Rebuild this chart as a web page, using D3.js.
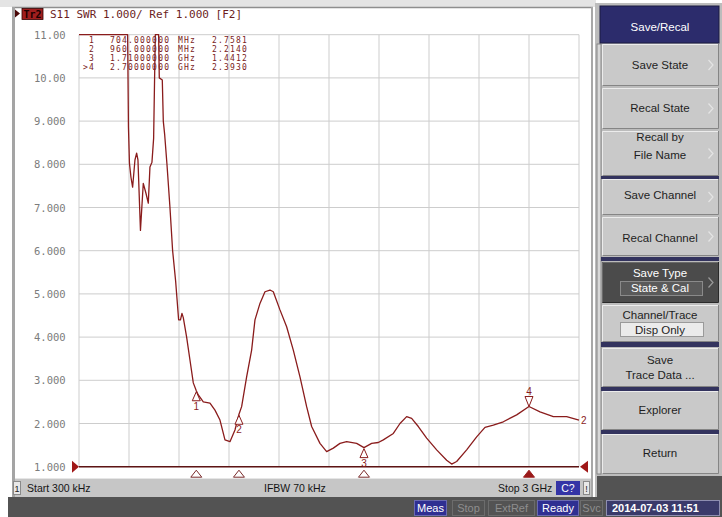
<!DOCTYPE html>
<html><head><meta charset="utf-8">
<script src="https://cdn.jsdelivr.net/npm/d3@7"></script>
<style>body{margin:0;background:#fff}svg{display:block}</style>
</head><body>
<svg id="c" width="722" height="517"></svg>
<script>
// ---------------- DATA ----------------
const startMHz = 0.3, stopMHz = 3000;
const freqMHz = [0.3,150,292,297,303,312,322,336,346,354,369,386,402,416,426,438,448,458,478,482,500,506,514,528,546,562,580,588,598,609,618,626,646,666,686,704,716,746,786,816,846,876,906,936,960,976,1006,1036,1056,1086,1116,1146,1166,1206,1246,1286,1326,1366,1396,1446,1486,1526,1566,1606,1666,1710,1756,1796,1826,1886,1926,1966,1996,2036,2086,2146,2206,2236,2266,2326,2386,2436,2486,2546,2626,2700,2766,2846,2926,3000];
const swr = [12,12,12,8.86,8.02,7.7,7.47,8.1,8.26,8.1,6.47,7.56,7.33,7.1,7.94,8.05,8.6,12,12,10.0,9.95,9.0,8.7,8.0,7.0,6.0,5.3,4.9,4.4,4.4,4.55,4.45,4.0,3.47,2.94,2.7581,2.66,2.5,2.47,2.31,2.08,1.62,1.58,1.85,2.214,2.39,3.08,3.70,4.40,4.78,5.05,5.09,5.05,4.63,4.24,3.70,3.08,2.39,1.93,1.54,1.35,1.43,1.54,1.58,1.54,1.4412,1.54,1.56,1.62,1.77,2.0,2.16,2.12,1.93,1.66,1.39,1.15,1.06,1.12,1.39,1.69,1.91,1.96,2.04,2.20,2.393,2.27,2.16,2.16,2.08];
const yTickValues = [1,2,3,4,5,6,7,8,9,10,11];
const yTickLabels = ["1.000","2.000","3.000","4.000","5.000","6.000","7.000","8.000","9.000","10.00","11.00"];
const markerNames = ["1","2","3",">4"];
const markerFreqMHz = [704,960,1710,2700];
const markerFreqText = ["704.000000","960.000000","1.71000000","2.70000000"];
const markerUnits = ["MHz","MHz","GHz","GHz"];
const markerSWR = [2.7581,2.2140,1.4412,2.3930];
const headerText = "S11 SWR 1.000/ Ref 1.000 [F2]";
const statusTexts = ["Start 300 kHz","IFBW 70 kHz","Stop 3 GHz"];
const menuTitle = "Save/Recal";
const menuLabels = [["Save State"],["Recal State"],["Recall by","File Name"],["Save Channel"],["Recal Channel"],["Save Type","State & Cal"],["Channel/Trace","Disp Only"],["Save","Trace Data ..."],["Explorer"],["Return"]];
const statusFlags = ["Meas","Stop","ExtRef","Ready","Svc"];
const dateText = "2014-07-03 11:51";

// ---------------- LAYOUT ----------------
const svg = d3.select("#c");
const TR = "#8a1c1c";
const plot = {l:79, r:579, t:34.7, b:466.7};
const x = d3.scaleLinear().domain([startMHz, stopMHz]).range([plot.l, plot.r]);
const y = d3.scaleLinear().domain([1, 11]).range([plot.b, plot.t]).clamp(true);
const div = d3.scaleLinear().domain([0,10]).range([plot.l, plot.r]);

svg.append("rect").attr("width",722).attr("height",517).attr("fill","#fff");
svg.append("rect").attr("x",0).attr("y",0).attr("width",596).attr("height",7).attr("fill","#e4e4e4");
svg.append("line").attr("x1",12).attr("x2",593).attr("y1",7.5).attr("y2",7.5).attr("stroke","#8e8e8e").attr("stroke-width",1.5);
svg.append("rect").attr("x",12).attr("y",7).attr("width",3).attr("height",490).attr("fill","#a4a4a4");
svg.append("rect").attr("x",591).attr("y",7).attr("width",2).attr("height",490).attr("fill","#a8a8a8");

// grid
const g = svg.append("g");
g.selectAll(".vg").data(d3.range(11)).join("line")
  .attr("x1",d=>div(d)).attr("x2",d=>div(d)).attr("y1",plot.t).attr("y2",plot.b)
  .attr("stroke","#cdcdcd").attr("stroke-width",1);
g.selectAll(".hg").data(yTickValues).join("line")
  .attr("x1",plot.l).attr("x2",plot.r).attr("y1",d=>y(d)).attr("y2",d=>y(d))
  .attr("stroke","#cdcdcd").attr("stroke-width",1);

// y labels
svg.selectAll(".yl").data(yTickValues).join("text")
  .attr("x",34).attr("y",d=>y(d)+4).text((d,i)=>yTickLabels[i])
  .attr("font-family","DejaVu Sans Mono").attr("font-size","10.5px").attr("fill","#7c7c7c");

// reference line at 1.000
svg.append("line").attr("x1",plot.l).attr("x2",plot.r).attr("y1",y(1)).attr("y2",y(1))
  .attr("stroke","#5e1414").attr("stroke-width",1.4);

// trace
const pts = freqMHz.map((f,i)=>[f, swr[i]]);
svg.append("path").datum(pts)
  .attr("d", d3.line().x(d=>x(d[0])).y(d=>y(d[1])))
  .attr("fill","none").attr("stroke",TR).attr("stroke-width",1.3).attr("stroke-linejoin","round");

// marker table
const mt = svg.append("g").attr("font-family","DejaVu Sans Mono").attr("font-size","8px").attr("letter-spacing","1.2px").attr("fill","#7a2222");
markerNames.forEach((n,i)=>{
  const by = 43 + i*9;
  mt.append("text").attr("x",95).attr("y",by).attr("text-anchor","end").text(n);
  mt.append("text").attr("x",110).attr("y",by).text(markerFreqText[i]);
  mt.append("text").attr("x",178).attr("y",by).text(markerUnits[i]);
  mt.append("text").attr("x",212).attr("y",by).text(markerSWR[i].toFixed(4));
});

// trace markers
markerFreqMHz.forEach((f,i)=>{
  const mx = x(f), my = y(markerSWR[i]);
  if(i<3){
    svg.append("path").attr("d",`M${mx},${my+1}L${mx+4},${my+10}L${mx-4},${my+10}Z`)
      .attr("fill","#fff").attr("stroke",TR).attr("stroke-width",1);
    svg.append("text").attr("x",mx).attr("y",my+19).attr("text-anchor","middle")
      .attr("font-family","Liberation Sans").attr("font-size","10px").attr("fill",TR).text(String(i+1));
  } else {
    svg.append("path").attr("d",`M${mx},${my}L${mx+4},${my-10}L${mx-4},${my-10}Z`)
      .attr("fill","#fff").attr("stroke",TR).attr("stroke-width",1);
    svg.append("text").attr("x",mx).attr("y",my-12).attr("text-anchor","middle")
      .attr("font-family","Liberation Sans").attr("font-size","10px").attr("fill",TR).text(String(i+1));
  }
  const by = plot.b + 3.5;
  svg.append("path").attr("d",`M${mx},${by}L${mx+5.5},${by+7}L${mx-5.5},${by+7}Z`)
    .attr("fill", i===3 ? "#9a1a1a" : "#fff").attr("stroke", i===3 ? "#9a1a1a" : "#7a2a2a").attr("stroke-width",1);
});
svg.append("text").attr("x",plot.r+2).attr("y",y(swr[swr.length-1])+4)
  .attr("font-family","Liberation Sans").attr("font-size","10px").attr("fill",TR).text("2");
svg.append("path").attr("d",`M${plot.l-7},${plot.b-6}L${plot.l},${plot.b}L${plot.l-7},${plot.b+6}Z`).attr("fill","#a01818");
svg.append("path").attr("d",`M${plot.r+9},${plot.b-6}L${plot.r+1},${plot.b}L${plot.r+9},${plot.b+6}Z`).attr("fill","#a01818");

// header
svg.append("path").attr("d","M15,9.5L20,13.5L15,17.5Z").attr("fill","#4a0808");
svg.append("rect").attr("x",22).attr("y",8.5).attr("width",21).attr("height",11).attr("fill","#a01e1e").attr("stroke","#300").attr("stroke-width",0.8);
svg.append("text").attr("x",32.5).attr("y",17.5).attr("text-anchor","middle").attr("font-family","DejaVu Sans Mono").attr("font-weight","bold").attr("font-size","10px").attr("fill","#1a0000").text("Tr2");
svg.append("text").attr("x",50).attr("y",18).attr("font-family","DejaVu Sans Mono").attr("font-size","11px").attr("fill","#6b1d1d").text(headerText);

// status bar
svg.append("rect").attr("x",15).attr("y",478).attr("width",576).attr("height",19).attr("fill","#c6c6c6");
svg.append("line").attr("x1",15).attr("x2",591).attr("y1",478.5).attr("y2",478.5).attr("stroke","#e6e6e6");
svg.append("rect").attr("x",13.5).attr("y",481.5).attr("width",7).attr("height",13).attr("fill","#e8e8e8").attr("stroke","#8a8a8a");
svg.append("text").attr("x",17).attr("y",492).attr("text-anchor","middle").attr("font-family","Liberation Sans").attr("font-size","9px").attr("fill","#222").text("1");
const stX = [27,264,498];
statusTexts.forEach((t,i)=>svg.append("text").attr("x",stX[i]).attr("y",492).attr("font-family","Liberation Sans").attr("font-size","10.5px").attr("fill","#151515").text(t));
svg.append("rect").attr("x",556).attr("y",481).attr("width",24).attr("height",14).attr("fill","#3434a6");
svg.append("text").attr("x",568).attr("y",492).attr("text-anchor","middle").attr("font-family","Liberation Sans").attr("font-size","10.5px").attr("fill","#fff").text("C?");
svg.append("rect").attr("x",583.5).attr("y",481.5).attr("width",6).attr("height",13).attr("fill","#e8e8e8").attr("stroke","#8a8a8a");
svg.append("text").attr("x",586.5).attr("y",492).attr("text-anchor","middle").attr("font-family","Liberation Sans").attr("font-size","9px").attr("fill","#222").text("!");

// right panel
svg.append("rect").attr("x",595).attr("y",3).attr("width",127).attr("height",514).attr("fill","#bcbcbc");
svg.append("rect").attr("x",597).attr("y",44).attr("width",4).attr("height",430).attr("fill","#d8d8d8").attr("stroke","#777").attr("stroke-width",0.8);
svg.append("rect").attr("x",600).attr("y",6).attr("width",119).attr("height",37).attr("fill","#2c2c6c").attr("stroke","#1a1a40");
svg.append("text").attr("x",660).attr("y",31).attr("text-anchor","middle").attr("font-family","Liberation Sans").attr("font-size","11.5px").attr("fill","#fff").text(menuTitle);

const btn = [[44,86],[88,129],[131,176],[179,215],[217,256],[262,303],[305,342],[348,387],[391,430],[434,474]];
const lineY = [[65],[108],[137,155],[195],[238],[273,288],[315,330],[360,375],[410],[453]];
[[176,179],[257,261],[342,347],[387,391],[430,434]].forEach(s=>svg.append("rect").attr("x",601).attr("y",s[0]).attr("width",118).attr("height",s[1]-s[0]).attr("fill","#33335e"));
menuLabels.forEach((lab,i)=>{
  const [y0,y1] = btn[i];
  const dark = i===5;
  svg.append("rect").attr("x",602).attr("y",y0).attr("width",116).attr("height",y1-y0)
    .attr("fill", dark ? "#4b4b4b" : "#c9c9c9");
  svg.append("path").attr("d",`M602.5,${y1}V${y0+0.5}H718`).attr("fill","none").attr("stroke", dark?"#6a6a6a":"#ececec");
  svg.append("path").attr("d",`M602.5,${y1-0.5}H718.5V${y0}`).attr("fill","none").attr("stroke", dark?"#2a2a2a":"#858585");
  if(i===5){
    svg.append("rect").attr("x",620.5).attr("y",281.5).attr("width",82).attr("height",14).attr("fill","#5a5a5a").attr("stroke","#8a8a8a");
  }
  if(i===6){
    svg.append("rect").attr("x",620.5).attr("y",322.5).attr("width",83).attr("height",14).attr("fill","#ebebeb").attr("stroke","#9a9a9a");
  }
  lab.forEach((t,j)=>svg.append("text").attr("x",660).attr("y",lineY[i][j]+4).attr("text-anchor","middle")
    .attr("font-family","Liberation Sans").attr("font-size","11.5px").attr("fill", dark ? "#fff" : "#1e1e1e").text(t));
  if(i<=5){
    const cy = (y0+y1)/2;
    svg.append("path").attr("d",`M708.5,${cy-5}L713,${cy}L708.5,${cy+5}`).attr("fill","none").attr("stroke", dark?"#9a9a9a":"#e4e4e4").attr("stroke-width",1.2);
  }
});

// bottom dark bar
svg.append("rect").attr("x",8).attr("y",497).attr("width",714).attr("height",20).attr("fill","#535353");
svg.append("rect").attr("x",597).attr("y",476).attr("width",125).attr("height",21).attr("fill","#535353");
const fx = [414,452,488,537,580], fw = [32,32,46,41,22];
statusFlags.forEach((t,i)=>{
  const act = (t==="Meas"||t==="Ready");
  svg.append("rect").attr("x",fx[i]+0.5).attr("y",500.5).attr("width",fw[i]).attr("height",15)
    .attr("fill", act ? "#2f2f92" : "none").attr("stroke", act ? "#6a6ab0" : "#6c6c6c");
  svg.append("text").attr("x",fx[i]+fw[i]/2+0.5).attr("y",512).attr("text-anchor","middle")
    .attr("font-family","Liberation Sans").attr("font-size","11px").attr("fill", act ? "#fff" : "#8e8e8e").text(t);
});
svg.append("rect").attr("x",606.5).attr("y",500.5).attr("width",113).attr("height",15).attr("fill","#3a3a6a").attr("stroke","#8e8eb0");
svg.append("text").attr("x",612).attr("y",512).attr("font-family","Liberation Sans").attr("font-weight","bold").attr("font-size","11px").attr("fill","#fff").text(dateText);
</script>
</body></html>
